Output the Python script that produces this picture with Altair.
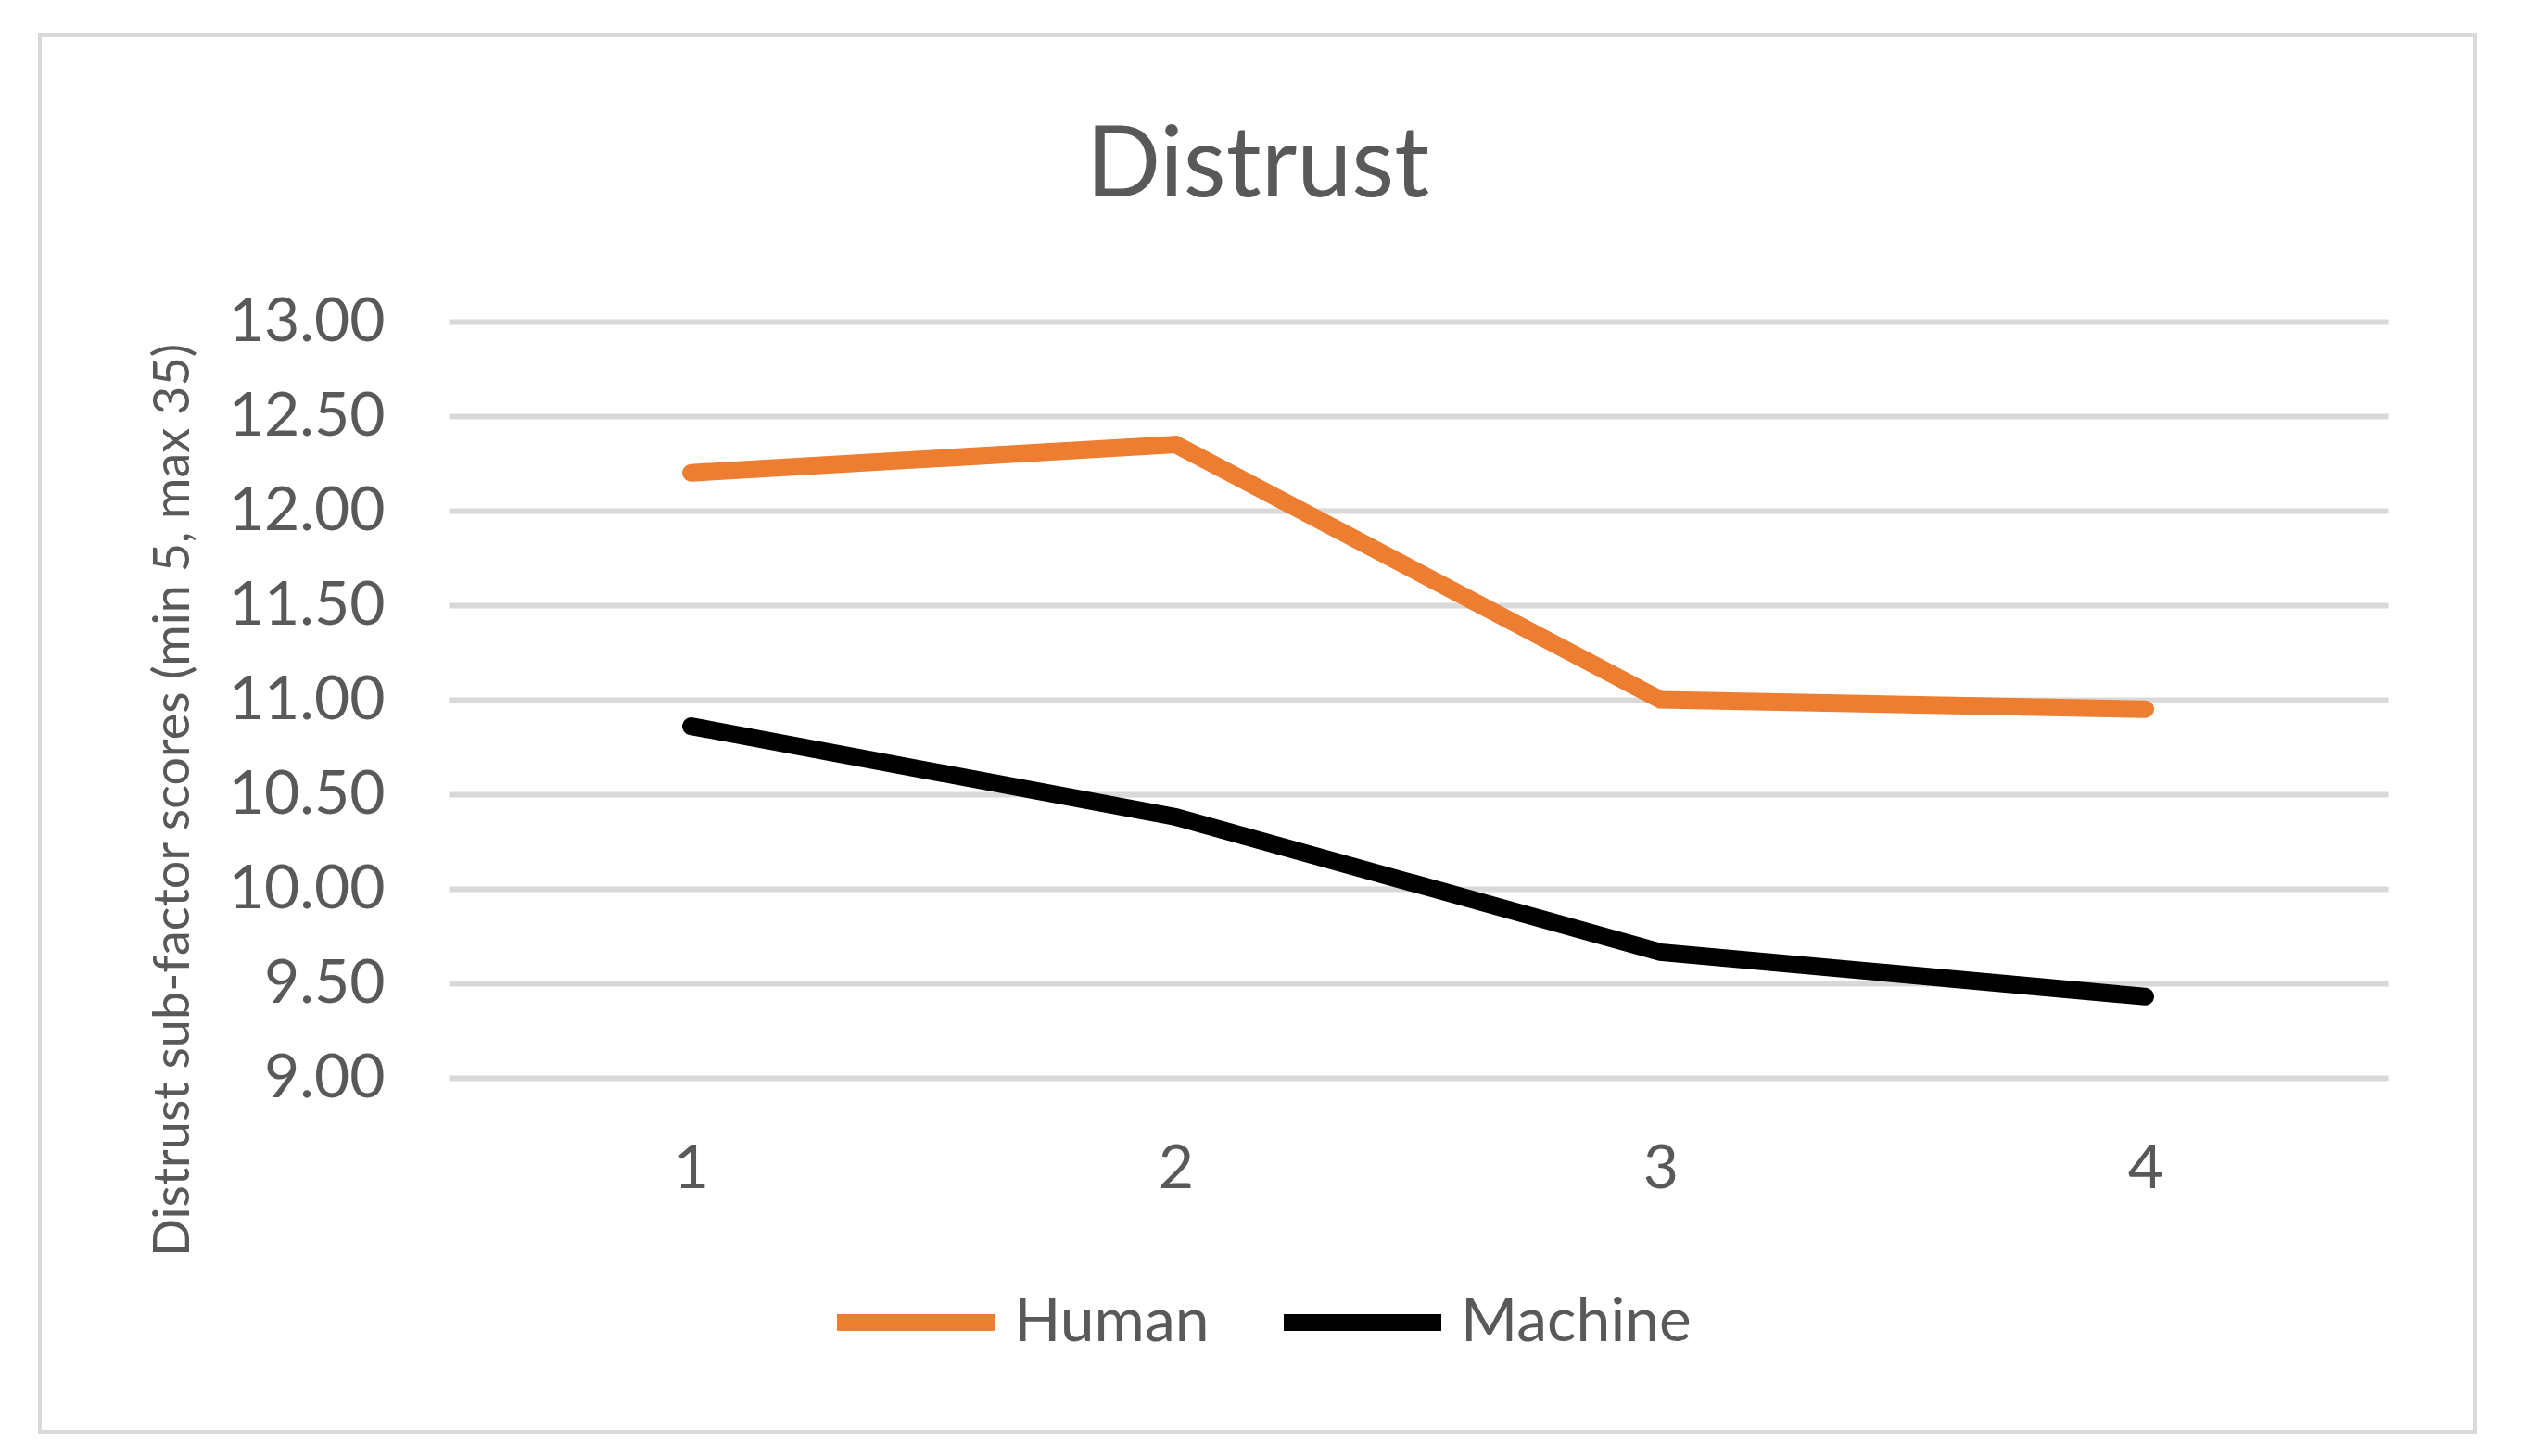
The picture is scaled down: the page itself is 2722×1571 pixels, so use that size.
import altair as alt
import pandas as pd

categories = ["1", "2", "3", "4"]
human = [12.20, 12.35, 11.00, 10.95]
machine = [10.86, 10.38, 9.665, 9.43]
series_names = ["Human", "Machine"]
y_ticks = [9.0, 9.5, 10.0, 10.5, 11.0, 11.5, 12.0, 12.5, 13.0]

rows = []
for name, vals in zip(series_names, [human, machine]):
    for c, v in zip(categories, vals):
        rows.append({"Point": c, "Series": name, "Score": v})
df = pd.DataFrame(rows)

FONT = "Lato"
TXT = "#595959"
W, H = 2092, 816

frame = alt.Chart(pd.DataFrame({"a": [0]})).mark_rect(
    fill=None, stroke="#d9d9d9", strokeWidth=4
).encode(
    x=alt.value(-441), x2=alt.value(2186), y=alt.value(-309), y2=alt.value(1198)
)

lines = alt.Chart(df).mark_line(strokeWidth=19, strokeCap="round", strokeJoin="miter").encode(
    x=alt.X("Point:O", sort=categories,
            scale=alt.Scale(type="point", padding=0.5),
            axis=alt.Axis(title=None, labelAngle=0, labelFont=FONT, labelFontSize=66,
                          labelColor=TXT, labelPadding=66, ticks=False, domain=False,
                          grid=False, labelBaseline="top")),
    y=alt.Y("Score:Q",
            scale=alt.Scale(domain=[9, 13], zero=False, nice=False),
            axis=alt.Axis(values=y_ticks, format=".2f",
                          title="Distrust sub-factor scores (min 5, max 35)",
                          titleFont=FONT, titleFontSize=54, titleFontWeight="normal",
                          titleColor=TXT, titleAngle=270, titleX=-297, titleY=516,
                          titleAlign="center", titleBaseline="middle",
                          labelFont=FONT, labelFontSize=66, labelColor=TXT,
                          labelPadding=69, ticks=False, domain=False,
                          grid=True, gridColor="#d9d9d9", gridWidth=6)),
    color=alt.Color("Series:N",
                    scale=alt.Scale(domain=series_names, range=["#ED7D31", "#000000"]),
                    legend=alt.Legend(title=None, orient="none", direction="horizontal",
                                      legendX=410, legendY=986,
                                      symbolType="stroke", symbolSize=28900,
                                      symbolStrokeWidth=18, labelFont=FONT,
                                      labelFontSize=66, labelColor=TXT, labelLimit=500,
                                      labelOffset=12, columnPadding=44)),
)

chart = alt.layer(frame, lines).properties(
    width=W, height=H,
    title=alt.TitleParams("Distrust", font=FONT, fontSize=106, fontWeight="normal",
                          color=TXT, anchor="middle", dx=-173, offset=0, dy=282,
                          baseline="alphabetic"),
    autosize=alt.AutoSizeParams(type="none"),
    padding={"left": 476, "top": 339, "right": 130, "bottom": 400},
).configure(background="white", view=alt.ViewConfig(stroke="transparent"))

chart.save("out.html", embed_options={"renderer": "svg", "actions": False})
